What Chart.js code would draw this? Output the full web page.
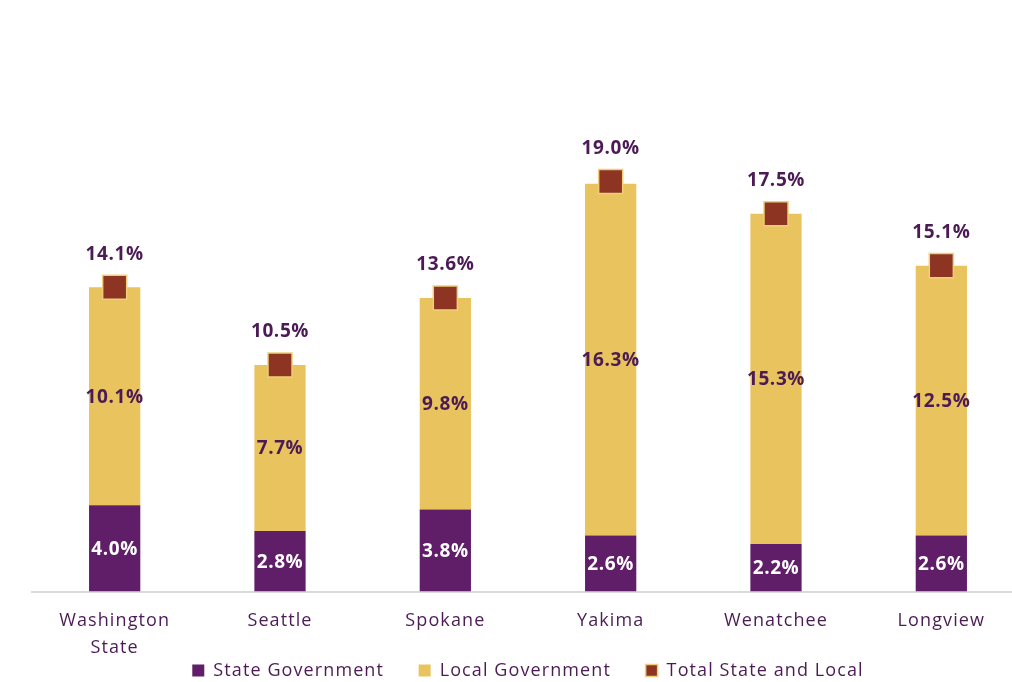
<!DOCTYPE html>
<html>
<head>
<meta charset="utf-8">
<script src="https://cdn.jsdelivr.net/npm/chart.js@4.4.1/dist/chart.umd.min.js"></script>
<style>
  html, body { margin: 0; padding: 0; background: #ffffff; overflow: hidden; }
  #wrap { position: relative; width: 1024px; height: 682px; }
</style>
</head>
<body>
<div id="wrap"><canvas id="c" width="1024" height="682"></canvas></div>
<script>
const categories = [["Washington", "State"], "Seattle", "Spokane", "Yakima", "Wenatchee", "Longview"];
const stateGov = [4.0, 2.8, 3.8, 2.6, 2.2, 2.6];
const localGov = [10.1, 7.7, 9.8, 16.3, 15.3, 12.5];
const totalGov = [14.1, 10.5, 13.6, 19.0, 17.5, 15.1];
const seriesNames = ["State Government", "Local Government", "Total State and Local"];

const PURPLE = "#5f1e67";
const YELLOW = "#e8c35e";
const MAROON = "#8d3422";
const TEXT = "#4c1b55";
const FONT = "'Open Sans', 'Liberation Sans', sans-serif";
const GAP = "      ";

const spacing = {
  id: "spacing",
  beforeInit(chart) { chart.ctx.letterSpacing = "1.1px"; },
  beforeUpdate(chart) { chart.ctx.letterSpacing = "1.1px"; },
  beforeDraw(chart) { chart.ctx.letterSpacing = "1.1px"; }
};

const labels = {
  id: "labels",
  afterDatasetsDraw(chart) {
    const ctx = chart.ctx;
    ctx.save();
    ctx.textAlign = "center";
    ctx.textBaseline = "middle";
    ctx.font = "bold 19px " + FONT;
    ctx.letterSpacing = "0.6px";
    [0, 1].forEach(di => {
      const meta = chart.getDatasetMeta(di);
      const vals = chart.data.datasets[di].data;
      meta.data.forEach((bar, i) => {
        const y = (bar.y + bar.base) / 2;
        ctx.fillStyle = di === 0 ? "#ffffff" : TEXT;
        ctx.fillText(vals[i].toFixed(1) + "%", bar.x, y + 1);
      });
    });
    const meta2 = chart.getDatasetMeta(2);
    meta2.data.forEach((pt, i) => {
      ctx.fillStyle = TEXT;
      ctx.fillText(totalGov[i].toFixed(1) + "%", pt.x, pt.y - 33);
    });
    ctx.restore();
  }
};

new Chart(document.getElementById("c"), {
  data: {
    labels: categories,
    datasets: [
      { type: "bar", label: seriesNames[0], data: stateGov, backgroundColor: PURPLE, stack: "gov", order: 2,
        barPercentage: 0.31, categoryPercentage: 1 },
      { type: "bar", label: seriesNames[1], data: localGov, backgroundColor: YELLOW, stack: "gov", order: 2,
        barPercentage: 0.31, categoryPercentage: 1 },
      { type: "line", label: seriesNames[2], data: totalGov, stack: "total", order: 1, showLine: false,
        pointStyle: "rect", pointRadius: 17, pointHoverRadius: 17, pointBackgroundColor: MAROON,
        pointBorderColor: "#efcf7a", pointBorderWidth: 1.5, backgroundColor: MAROON, borderColor: "#efcf7a", borderWidth: 1.5 }
    ]
  },
  options: {
    responsive: false,
    animation: false,
    events: [],
    layout: { autoPadding: false, padding: { left: 32, right: 0, top: 52, bottom: -7.5 } },
    plugins: {
      tooltip: { enabled: false },
      legend: {
        position: "bottom",
        labels: {
          color: TEXT,
          font: { family: FONT, size: 18 },
          boxWidth: 12, boxHeight: 12,
          padding: 0,
          sort: (a, b) => a.datasetIndex - b.datasetIndex,
          generateLabels(chart) {
            const items = Chart.defaults.plugins.legend.labels.generateLabels(chart);
            items.forEach(it => { if (it.datasetIndex < 2) it.text = it.text + GAP; });
            return items;
          }
        }
      }
    },
    scales: {
      x: {
        stacked: true,
        grid: { display: false, drawTicks: false },
        border: { display: true, color: "#d9d9d9", width: 2 },
        ticks: { color: TEXT, font: { family: FONT, size: 18, lineHeight: 1.5 }, padding: 16, maxRotation: 0 },
        afterFit(scale) { scale.height -= 16; }
      },
      y: {
        stacked: true,
        display: false,
        min: 0, max: 25
      }
    }
  },
  plugins: [spacing, labels]
});
</script>
</body>
</html>
